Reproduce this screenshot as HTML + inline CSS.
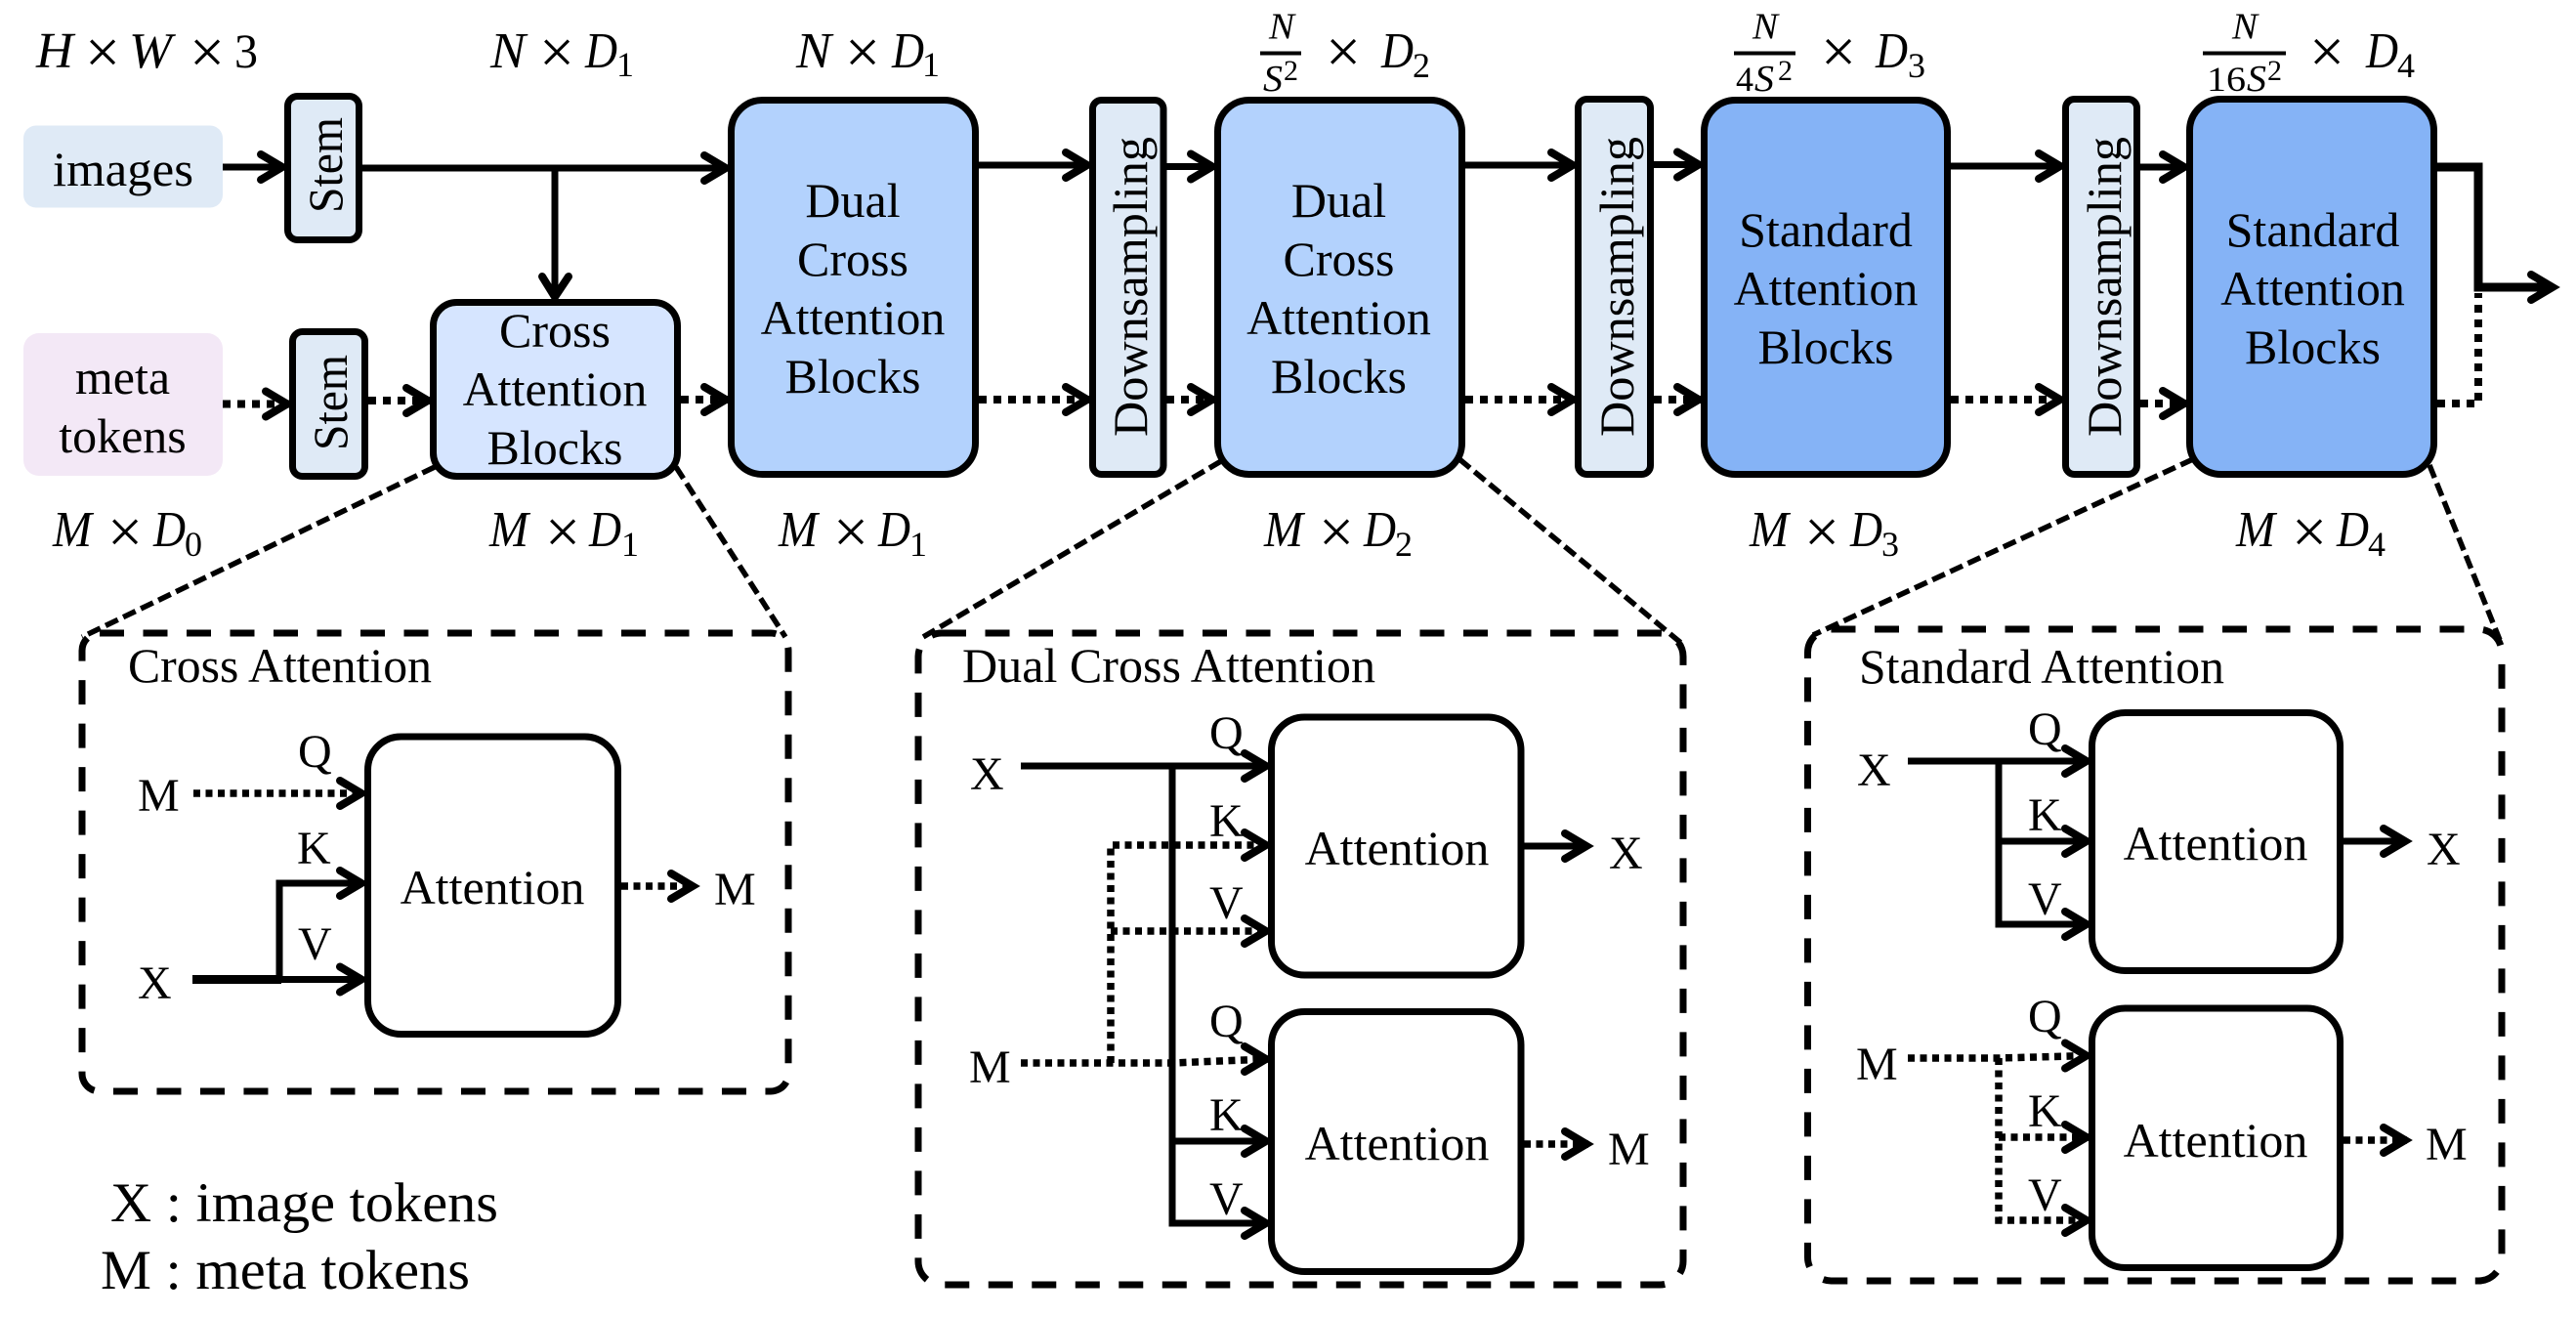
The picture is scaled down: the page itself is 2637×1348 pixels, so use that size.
<!DOCTYPE html>
<html><head><meta charset="utf-8"><style>
html,body{margin:0;padding:0;background:#fff;width:2637px;height:1348px;overflow:hidden}
svg{display:block}
text{font-family:"Liberation Serif",serif;font-size:50px;fill:#000}
.i{font-style:italic;font-size:52px}
.x{font-size:64px;transform:translateY(3.500px)}
.s{font-size:36px}.f{font-style:italic;font-size:38px}.q{font-size:48px}
.u{font-size:30px}
.l{font-size:57px}
.c{text-anchor:middle}
.b{stroke:#000;stroke-width:7}
.so{fill:none;stroke:#000;stroke-width:7;stroke-linecap:butt}
.so2{fill:none;stroke:#000;stroke-width:7}
.do{fill:none;stroke:#000;stroke-width:8;stroke-dasharray:8 7}
.do2{fill:none;stroke:#000;stroke-width:7.500;stroke-dasharray:7 5.500}
.h{fill:none;stroke:#000;stroke-width:8;stroke-linecap:round;stroke-linejoin:miter}
.dash{fill:none;stroke:#000;stroke-width:7;stroke-dasharray:25 19.500}
.diag{fill:none;stroke:#000;stroke-width:5.500;stroke-dasharray:14 6}
</style></head><body>
<svg xmlns="http://www.w3.org/2000/svg" width="2637" height="1348" viewBox="0 0 2637 1348">
<defs><path id="h" class="h" d="M-24 -13L-2 0L-24 13"/></defs>

<!-- top connectors -->
<path class="so" d="M228 171H291M371 172H745M568 172V306M1002 169H1115M1194 170.500H1243M1500 169H1612M1693 168.500H1741M1997 170H2111M2191 171H2238"/>
<path class="so" style="stroke-width:9" d="M2495 171H2537V294H2612"/>
<path class="do" d="M228 413.500H296M377 410H440M697 409H745M1002 409H1115M1194 409H1243M1500 409H1612M1693 409H1741M1997 409H2111M2191 413H2238M2495 413H2537V300"/>
<use href="#h" x="291" y="171"/><use href="#h" x="745" y="172"/><path class="h" d="M555 283L568 304L582 283"/>
<use href="#h" x="1115" y="169"/><use href="#h" x="1243" y="170.500"/><use href="#h" x="1612" y="169"/><use href="#h" x="1741" y="168.500"/><use href="#h" x="2111" y="170"/><use href="#h" x="2238" y="171"/><use href="#h" x="2615" y="294"/>
<use href="#h" x="296" y="413.500"/><use href="#h" x="440" y="410"/><use href="#h" x="745" y="409"/><use href="#h" x="1115" y="409"/><use href="#h" x="1243" y="409"/><use href="#h" x="1612" y="409"/><use href="#h" x="1741" y="409"/><use href="#h" x="2111" y="409"/><use href="#h" x="2238" y="413"/>

<!-- diagonals -->
<path class="diag" d="M445 478L84 652M692 478L804 652M1250 472L945 652M1494 470L1722 659M2245 470L1856 650M2487 476L2559 655"/>

<!-- top boxes -->
<rect x="24" y="128.500" width="204" height="84" rx="13" fill="#dfeaf6"/>
<rect x="24" y="341" width="204" height="146" rx="16" fill="#f3e8f6"/>
<rect class="b" x="294.500" y="98.500" width="73" height="147" rx="10" fill="#dfeaf6"/>
<rect class="b" x="299.500" y="339.500" width="74" height="148" rx="10" fill="#dfeaf6"/>
<rect class="b" x="443.500" y="309.500" width="250" height="178" rx="24" fill="#d6e5ff"/>
<rect class="b" x="748.500" y="102.500" width="250" height="383" rx="32" fill="#b3d2fd"/>
<rect class="b" x="1118.500" y="102.500" width="72.500" height="383" rx="9" fill="#dfeaf6"/>
<rect class="b" x="1246.500" y="102.500" width="250" height="383" rx="32" fill="#b3d2fd"/>
<rect class="b" x="1615.500" y="101.500" width="74" height="384" rx="9" fill="#dfeaf6"/>
<rect class="b" x="1744.500" y="102.500" width="249" height="383" rx="32" fill="#85b3f6"/>
<rect class="b" x="2114.500" y="101.500" width="73" height="384" rx="9" fill="#dfeaf6"/>
<rect class="b" x="2241.500" y="101.500" width="250" height="384" rx="32" fill="#85b3f6"/>

<!-- top box text -->
<text x="54" y="190" textLength="144" lengthAdjust="spacingAndGlyphs">images</text>
<text x="125.500" y="403" class="c">meta</text>
<text x="125.500" y="463" class="c">tokens</text>
<text transform="translate(350,218) rotate(-90)" textLength="98" lengthAdjust="spacingAndGlyphs">Stem</text>
<text transform="translate(355,461) rotate(-90)" textLength="98" lengthAdjust="spacingAndGlyphs">Stem</text>
<text x="568" y="355" class="c">Cross</text><text x="568" y="415" class="c">Attention</text><text x="568" y="475" class="c">Blocks</text>
<text x="873" y="222" class="c">Dual</text><text x="873" y="282" class="c">Cross</text><text x="873" y="342" class="c">Attention</text><text x="873" y="402" class="c">Blocks</text>
<text x="1370.500" y="222" class="c">Dual</text><text x="1370.500" y="282" class="c">Cross</text><text x="1370.500" y="342" class="c">Attention</text><text x="1370.500" y="402" class="c">Blocks</text>
<text x="1869" y="252" class="c">Standard</text><text x="1869" y="312" class="c">Attention</text><text x="1869" y="372" class="c">Blocks</text>
<text x="2367.500" y="252" class="c">Standard</text><text x="2367.500" y="312" class="c">Attention</text><text x="2367.500" y="372" class="c">Blocks</text>
<text transform="translate(1174,447) rotate(-90)" textLength="307" lengthAdjust="spacingAndGlyphs">Downsampling</text>
<text transform="translate(1672,447) rotate(-90)" textLength="307" lengthAdjust="spacingAndGlyphs">Downsampling</text>
<text transform="translate(2171,447) rotate(-90)" textLength="307" lengthAdjust="spacingAndGlyphs">Downsampling</text>

<!-- top dims -->
<text class="i" x="37" y="69" textLength="38" lengthAdjust="spacingAndGlyphs">H</text><text class="x" x="87" y="71">×</text><text class="i" x="132" y="69" textLength="44" lengthAdjust="spacingAndGlyphs">W</text><text class="x" x="194" y="71">×</text><text x="240" y="69" textLength="24" lengthAdjust="spacingAndGlyphs">3</text>
<text class="i" x="502" y="69" textLength="36" lengthAdjust="spacingAndGlyphs">N</text><text class="x" x="552" y="71">×</text><text class="i" x="599" y="69" textLength="33" lengthAdjust="spacingAndGlyphs">D</text><text class="s" x="631" y="78">1</text>
<text class="i" x="815" y="69" textLength="36" lengthAdjust="spacingAndGlyphs">N</text><text class="x" x="865" y="71">×</text><text class="i" x="913" y="69" textLength="33" lengthAdjust="spacingAndGlyphs">D</text><text class="s" x="944" y="78">1</text>

<!-- fractions -->
<rect x="1290" y="52.500" width="42" height="4"/><text class="f" x="1299" y="39.500" textLength="26" lengthAdjust="spacingAndGlyphs">N</text><text class="f" x="1293" y="93" textLength="20" lengthAdjust="spacingAndGlyphs">S</text><text class="u" x="1314" y="82">2</text>
<text class="x" x="1357" y="70.500">×</text><text class="i" x="1414" y="69" textLength="33" lengthAdjust="spacingAndGlyphs">D</text><text class="s" x="1446" y="79">2</text>
<rect x="1775" y="52.500" width="63" height="4"/><text class="f" x="1794" y="39.500" textLength="26" lengthAdjust="spacingAndGlyphs">N</text><text x="1777" y="93" style="font-size:36px">4</text><text class="f" x="1796" y="93" textLength="20" lengthAdjust="spacingAndGlyphs">S</text><text class="u" x="1820" y="82">2</text>
<text class="x" x="1864" y="70.500">×</text><text class="i" x="1920" y="69" textLength="33" lengthAdjust="spacingAndGlyphs">D</text><text class="s" x="1953" y="79">3</text>
<rect x="2255" y="52.500" width="85" height="4"/><text class="f" x="2285" y="39.500" textLength="26" lengthAdjust="spacingAndGlyphs">N</text><text x="2259" y="93" style="font-size:36px" textLength="40" lengthAdjust="spacingAndGlyphs">16</text><text class="f" x="2300" y="93" textLength="20" lengthAdjust="spacingAndGlyphs">S</text><text class="u" x="2321" y="82">2</text>
<text class="x" x="2364" y="70.500">×</text><text class="i" x="2422" y="69" textLength="33" lengthAdjust="spacingAndGlyphs">D</text><text class="s" x="2454" y="79">4</text>

<!-- bottom dims -->
<text class="i" x="54" y="559" textLength="40" lengthAdjust="spacingAndGlyphs">M</text><text class="x" x="110" y="562">×</text><text class="i" x="157" y="559" textLength="33" lengthAdjust="spacingAndGlyphs">D</text><text class="s" x="189" y="569">0</text>
<text class="i" x="501" y="559" textLength="40" lengthAdjust="spacingAndGlyphs">M</text><text class="x" x="558" y="562">×</text><text class="i" x="603" y="559" textLength="33" lengthAdjust="spacingAndGlyphs">D</text><text class="s" x="636" y="569">1</text>
<text class="i" x="797" y="559" textLength="40" lengthAdjust="spacingAndGlyphs">M</text><text class="x" x="853" y="562">×</text><text class="i" x="899" y="559" textLength="33" lengthAdjust="spacingAndGlyphs">D</text><text class="s" x="931" y="569">1</text>
<text class="i" x="1294" y="559" textLength="40" lengthAdjust="spacingAndGlyphs">M</text><text class="x" x="1350" y="562">×</text><text class="i" x="1396" y="559" textLength="33" lengthAdjust="spacingAndGlyphs">D</text><text class="s" x="1428" y="569">2</text>
<text class="i" x="1791" y="559" textLength="40" lengthAdjust="spacingAndGlyphs">M</text><text class="x" x="1847" y="562">×</text><text class="i" x="1894" y="559" textLength="33" lengthAdjust="spacingAndGlyphs">D</text><text class="s" x="1926" y="569">3</text>
<text class="i" x="2289" y="559" textLength="40" lengthAdjust="spacingAndGlyphs">M</text><text class="x" x="2346" y="562">×</text><text class="i" x="2392" y="559" textLength="33" lengthAdjust="spacingAndGlyphs">D</text><text class="s" x="2424" y="569">4</text>

<!-- Cross Attention panel -->
<rect class="dash" x="84" y="648" width="723" height="469" rx="18"/>
<text x="131" y="698" textLength="311" lengthAdjust="spacingAndGlyphs">Cross Attention</text>
<path class="do2" d="M198 812H372M636 907H711"/>
<path class="so2" d="M286 1002.500V904H372M286 1002.500H372"/>
<path class="so" style="stroke-width:9" d="M197 1002.500H288"/>
<use href="#h" x="372" y="812"/><use href="#h" x="372" y="904"/><use href="#h" x="372" y="1002.500"/><use href="#h" x="711" y="907"/>
<rect class="b" x="376.500" y="754" width="256" height="304.500" rx="34" fill="#fff"/>
<text x="504" y="925" class="c">Attention</text>
<text class="q" x="141" y="830">M</text><text class="q" x="141" y="1022">X</text><text class="q" x="731" y="926">M</text>
<text class="q" x="305" y="785">Q</text><text class="q" x="304" y="884">K</text><text class="q" x="305" y="982">V</text>

<!-- Legend -->
<text class="l" x="113" y="1250" textLength="397" lengthAdjust="spacingAndGlyphs">X : image tokens</text>
<text class="l" x="103" y="1319" textLength="378" lengthAdjust="spacingAndGlyphs">M : meta tokens</text>

<!-- Dual Cross Attention panel -->
<rect class="dash" x="940" y="648" width="783" height="667" rx="24"/>
<text x="985" y="698" textLength="423" lengthAdjust="spacingAndGlyphs">Dual Cross Attention</text>
<path class="so" d="M1045 784H1298M1200 784V1252H1298M1200 1168H1298M1560 866H1626"/>
<path class="do2" d="M1045 1088H1200L1298 1084M1137 1088V865H1298M1137 953H1298M1560 1171H1626"/>
<use href="#h" x="1298" y="784"/><use href="#h" x="1298" y="865"/><use href="#h" x="1298" y="953"/><use href="#h" x="1298" y="1084"/><use href="#h" x="1298" y="1168"/><use href="#h" x="1298" y="1252"/><use href="#h" x="1626" y="866"/><use href="#h" x="1626" y="1171"/>
<rect class="b" x="1301.500" y="734" width="255.500" height="264" rx="34" fill="#fff"/>
<rect class="b" x="1301.500" y="1035.500" width="255.500" height="266" rx="34" fill="#fff"/>
<text x="1430" y="885" class="c">Attention</text><text x="1430" y="1187" class="c">Attention</text>
<text class="q" x="993" y="808">X</text><text class="q" x="992" y="1108">M</text><text class="q" x="1647" y="889">X</text><text class="q" x="1646" y="1192">M</text>
<text class="q" x="1238" y="766">Q</text><text class="q" x="1238" y="856">K</text><text class="q" x="1238" y="940">V</text>
<text class="q" x="1238" y="1061">Q</text><text class="q" x="1238" y="1157">K</text><text class="q" x="1238" y="1243">V</text>

<!-- Standard Attention panel -->
<rect class="dash" x="1850.500" y="644" width="710.500" height="667" rx="24"/>
<text x="1903" y="699" textLength="374" lengthAdjust="spacingAndGlyphs">Standard Attention</text>
<path class="so" d="M1953 779H2138M2046 779V946H2138M2046 861H2138M2399 861H2464"/>
<path class="do2" d="M1953 1083H2046L2138 1080.500M2046 1083V1249H2138M2046 1164H2138M2399 1167H2464"/>
<use href="#h" x="2138" y="779"/><use href="#h" x="2138" y="861"/><use href="#h" x="2138" y="946"/><use href="#h" x="2138" y="1080.500"/><use href="#h" x="2138" y="1164"/><use href="#h" x="2138" y="1249"/><use href="#h" x="2464" y="861"/><use href="#h" x="2464" y="1167"/>
<rect class="b" x="2141.500" y="729.500" width="254" height="264" rx="34" fill="#fff"/>
<rect class="b" x="2141.500" y="1032" width="254" height="265.500" rx="34" fill="#fff"/>
<text x="2268" y="880" class="c">Attention</text><text x="2268" y="1184" class="c">Attention</text>
<text class="q" x="1901" y="804">X</text><text class="q" x="1900" y="1105">M</text><text class="q" x="2484" y="885">X</text><text class="q" x="2483" y="1187">M</text>
<text class="q" x="2076" y="762">Q</text><text class="q" x="2076" y="850">K</text><text class="q" x="2076" y="936">V</text>
<text class="q" x="2076" y="1056">Q</text><text class="q" x="2076" y="1153">K</text><text class="q" x="2076" y="1239">V</text>
</svg>
</body></html>
